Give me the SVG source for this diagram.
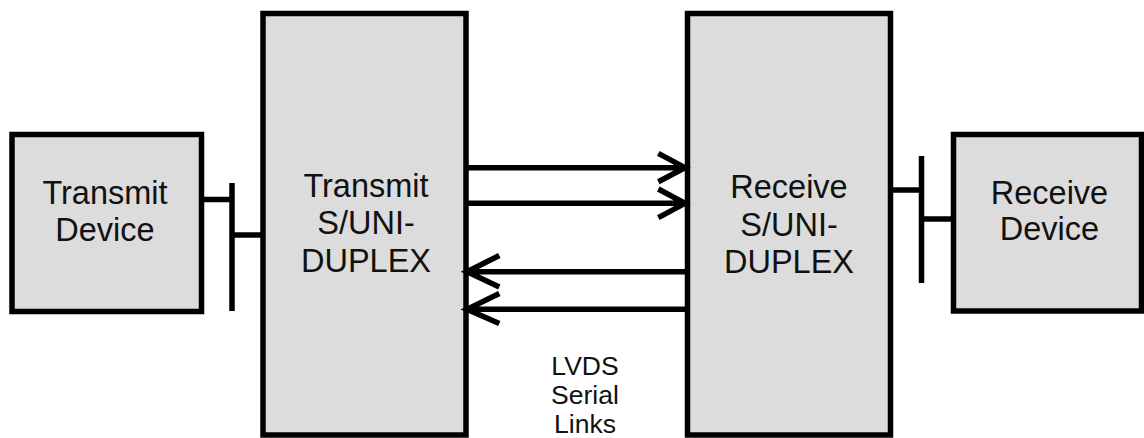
<svg xmlns="http://www.w3.org/2000/svg" width="1144" height="438" viewBox="0 0 1144 438">
<style>
.box{fill:#dcdcdc;stroke:#000;stroke-width:5.5}
.ln{fill:none;stroke:#000;stroke-width:5.5;stroke-linecap:butt}
.t{font-family:"Liberation Sans",Arial,sans-serif;font-size:32.5px;fill:#111;text-anchor:middle}
.s{font-family:"Liberation Sans",Arial,sans-serif;font-size:26.5px;fill:#111;text-anchor:middle}
</style>
<rect width="1144" height="438" fill="#fff"/>
<g id="transmit-device">
<rect class="box" x="12" y="134.5" width="189.5" height="177"/>
<text class="t" x="105" y="204">Transmit</text>
<text class="t" x="105" y="240.5">Device</text>
</g>
<g id="transmit-suni">
<rect class="box" x="263" y="13.5" width="203" height="421.5"/>
<text class="t" x="366" y="197">Transmit</text>
<text class="t" x="366" y="234">S/UNI-</text>
<text class="t" x="366" y="271.5">DUPLEX</text>
</g>
<g id="receive-suni">
<rect class="box" x="687.5" y="13.5" width="203" height="421.5"/>
<text class="t" x="789" y="197.5">Receive</text>
<text class="t" x="789" y="235.5">S/UNI-</text>
<text class="t" x="789" y="272.5">DUPLEX</text>
</g>
<g id="receive-device">
<rect class="box" x="953.5" y="134.5" width="188" height="176.5"/>
<text class="t" x="1049.5" y="203.5">Receive</text>
<text class="t" x="1049.5" y="240">Device</text>
</g>
<g id="lvds-label">
<text class="s" x="585" y="374.5">LVDS</text>
<text class="s" x="585" y="404">Serial</text>
<text class="s" x="585" y="433">Links</text>
</g>
<g id="connectors">
<path class="ln" d="M204 199.5H232M232 183V311M232 235H262"/>
<path class="ln" d="M893 190H921.5M921.5 156V283M921.5 219H951"/>
<path class="ln" d="M466 167.7H686M658.3 153.3L685 167.7L658.3 181.7"/>
<path class="ln" d="M466 203.3H686M658.3 189L685 203.3L658.3 217.7"/>
<path class="ln" d="M686 271.7H468M499.3 255.5L467 271.7L499.3 287"/>
<path class="ln" d="M686 309.3H468M499.3 293.5L467 309.3L499.3 323.5"/>
</g>
</svg>
